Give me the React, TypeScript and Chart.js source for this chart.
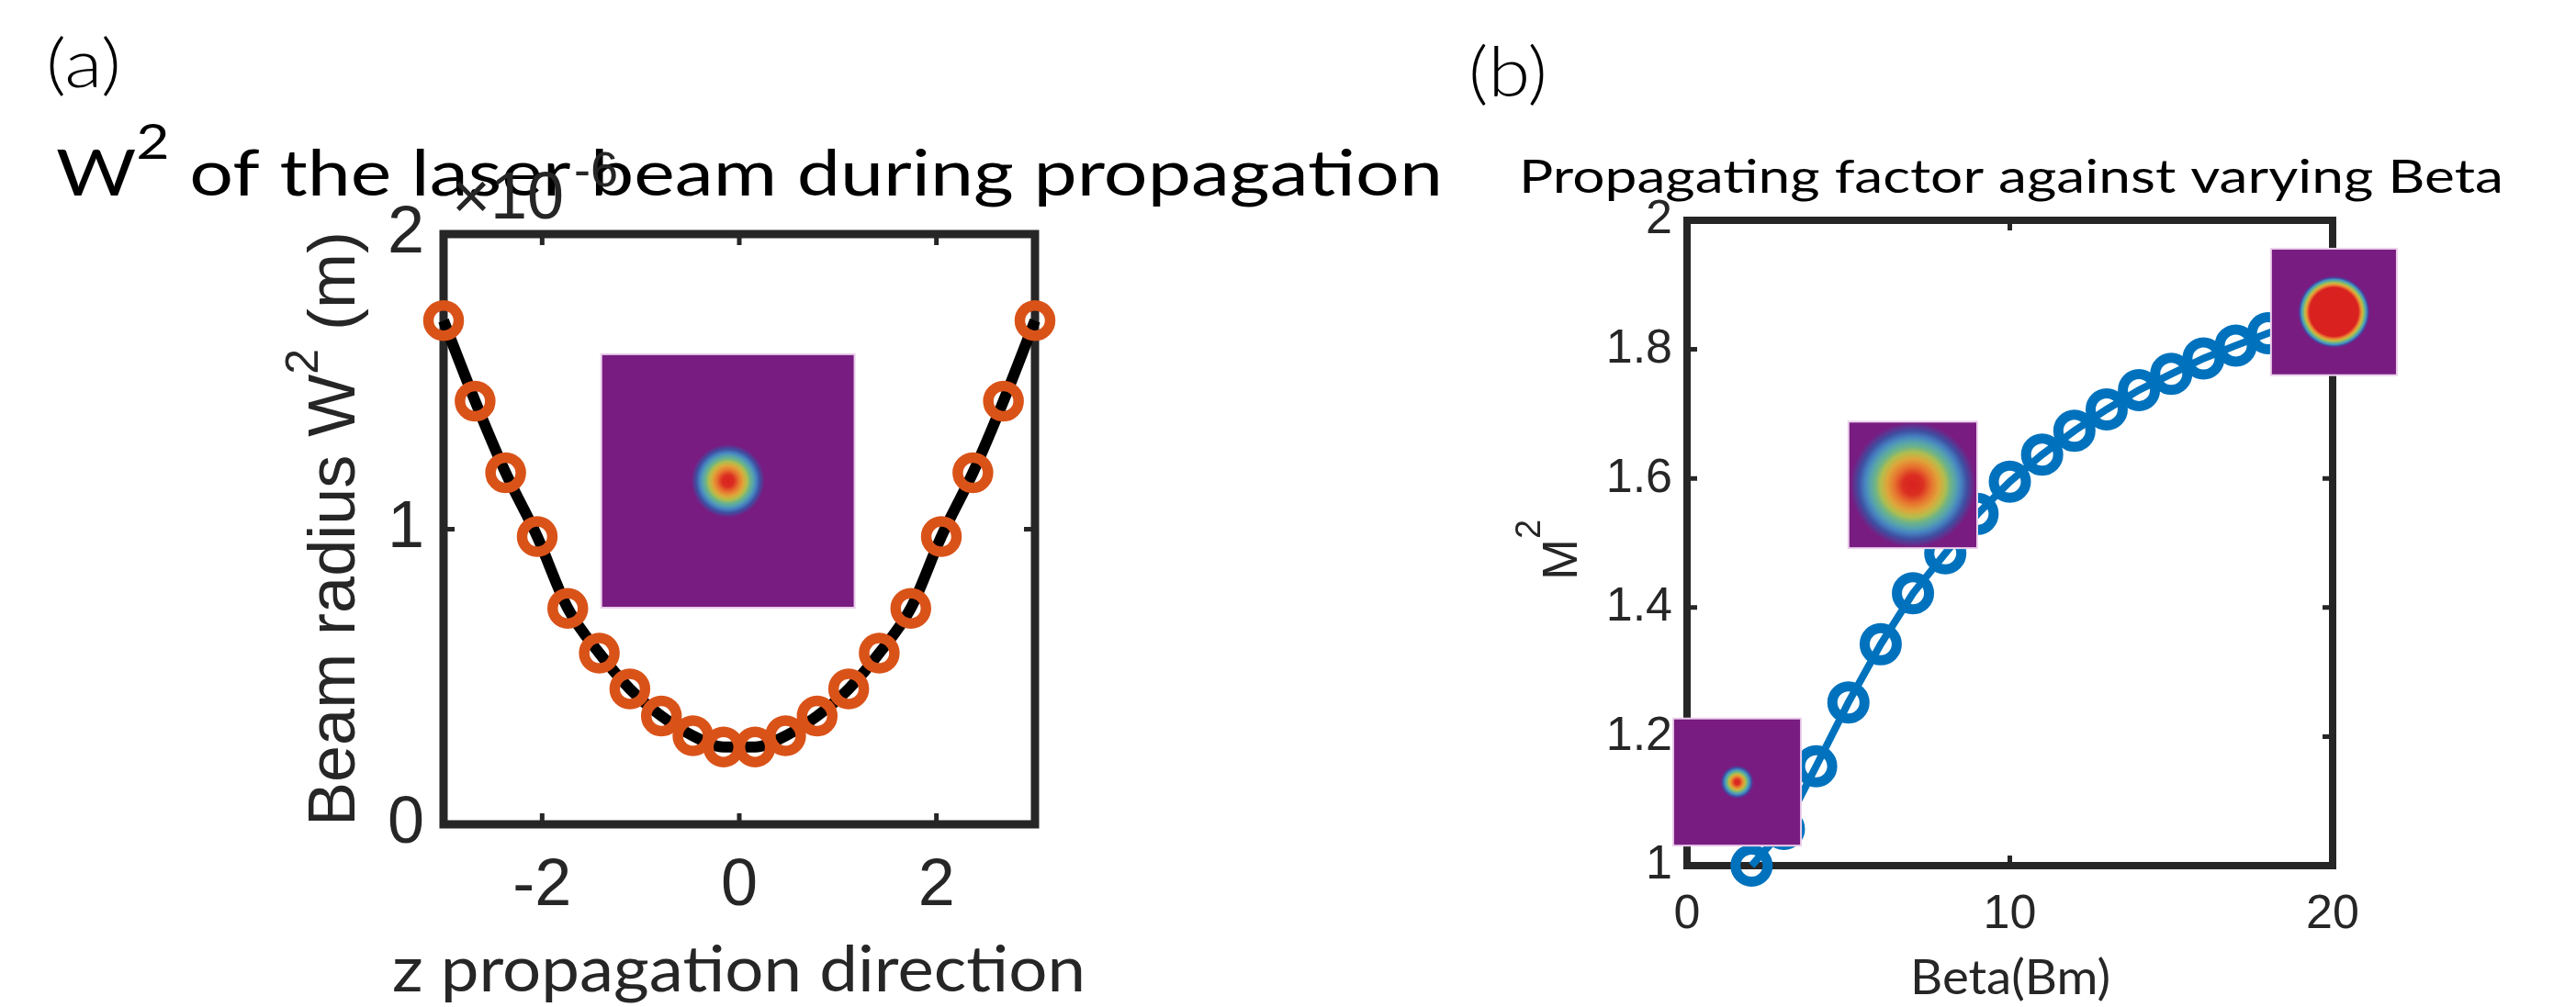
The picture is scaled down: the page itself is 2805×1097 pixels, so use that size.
import React, { useEffect, useRef } from "react";
import { Chart, registerables } from "chart.js";

Chart.register(...registerables);

// ---------------- Panel (a) data ----------------
const zPositions = [-3, -2.68, -2.37, -2.05, -1.74, -1.42, -1.11, -0.79, -0.47, -0.16, 0.16, 0.47, 0.79, 1.11, 1.42, 1.74, 2.05, 2.37, 2.68, 3];
const beamRadiusSq = [1.707e-6, 1.434e-6, 1.191e-6, 0.975e-6, 0.732e-6, 0.58e-6, 0.459e-6, 0.367e-6, 0.3e-6, 0.262e-6, 0.262e-6, 0.3e-6, 0.367e-6, 0.459e-6, 0.58e-6, 0.732e-6, 0.975e-6, 1.191e-6, 1.434e-6, 1.707e-6];
const zTicks = [-2, 0, 2];
const radiusTicks = [0, 1e-6, 2e-6];
const radiusTickLabels = ["0", "1", "2"];

// ---------------- Panel (b) data ----------------
const betaValues = [2, 3, 4, 5, 6, 7, 8, 9, 10, 11, 12, 13, 14, 15, 16, 17, 18, 19, 20];
const m2Values = [1.0, 1.057, 1.154, 1.253, 1.343, 1.422, 1.484, 1.545, 1.595, 1.637, 1.674, 1.707, 1.737, 1.762, 1.786, 1.806, 1.825, 1.842, 1.857];
const betaTicks = [0, 10, 20];
const m2Ticks = [1, 1.2, 1.4, 1.6, 1.8, 2];
const m2TickLabels = ["1", "1.2", "1.4", "1.6", "1.8", "2"];

// ---------------- styles / layout ----------------
const AXIS_COLOR = "#262626";
const TICK_FAMILY = '"Liberation Sans", Arial, Helvetica, sans-serif';
const TEXT_FAMILY = 'Lato, "Open Sans", sans-serif';
const PURPLE = "#781C81";

const gaussianStops: [number, string][] = [
  [0, "#D92120"], [0.16, "#DB2E21"], [0.3, "#E7742F"], [0.42, "#DFA53A"], [0.52, "#B1BE4E"],
  [0.61, "#6DB388"], [0.69, "#57A3AD"], [0.77, "#4683C1"], [0.87, "#3F4EA1"], [1, PURPLE],
];
const flatTopStops: [number, string][] = [
  [0, "#D92120"], [0.68, "#D92120"], [0.74, "#E7742F"], [0.78, "#DFA53A"], [0.82, "#B1BE4E"],
  [0.86, "#6DB388"], [0.89, "#57A3AD"], [0.92, "#4683C1"], [0.95, "#3F4EA1"], [1, PURPLE],
];

type Inset = { xFrom: number; xTo: number; yTop: number; yBottom: number; radius: number; stops: [number, string][] };

const insetsA: Inset[] = [
  { xFrom: -1.4, xTo: 1.17, yTop: 1.593e-6, yBottom: 0.734e-6, radius: 40, stops: gaussianStops },
];
const insetsB: Inset[] = [
  { xFrom: -0.43, xTo: 3.53, yTop: 1.228, yBottom: 1.031, radius: 18, stops: gaussianStops },
  { xFrom: 5.0, xTo: 8.99, yTop: 1.688, yBottom: 1.492, radius: 68, stops: gaussianStops },
  { xFrom: 18.09, xTo: 21.99, yTop: 1.956, yBottom: 1.76, radius: 39, stops: flatTopStops },
];

type Seg = { text: string; size: number; family?: string; weight?: string; raise?: number };
type TextSpec = { segs: Seg[]; x: number; y: number; color: string; fit?: number; rotate?: boolean };

const textsA: TextSpec[] = [
  { segs: [{ text: "(a)", size: 73, weight: "300" }], x: 50, y: 95, color: "#000", fit: 82 },
  {
    segs: [
      { text: "W", size: 70 },
      { text: "2", size: 52, raise: 40 },
      { text: " of the laser beam during propagation", size: 70 },
    ],
    x: 61, y: 213, color: "#000", fit: 1510,
  },
  { segs: [{ text: "×10", size: 72, family: TICK_FAMILY }], x: 492, y: 238, color: AXIS_COLOR },
  { segs: [{ text: "-6", size: 54, family: TICK_FAMILY }], x: 625, y: 203, color: AXIS_COLOR },
  { segs: [{ text: "z propagation direction", size: 70 }], x: 427, y: 1080, color: AXIS_COLOR, fit: 755 },
  {
    segs: [
      { text: "Beam radius W", size: 72, family: TICK_FAMILY },
      { text: "2", size: 50, raise: 40, family: TICK_FAMILY },
      { text: " (m)", size: 72, family: TICK_FAMILY },
    ],
    x: 386, y: 900, color: AXIS_COLOR, fit: 648, rotate: true,
  },
];

const textsB: TextSpec[] = [
  { segs: [{ text: "(b)", size: 74, weight: "300" }], x: 1599, y: 105, color: "#000", fit: 86 },
  { segs: [{ text: "Propagating factor against varying Beta", size: 51 }], x: 1654, y: 210, color: "#000", fit: 1072 },
  { segs: [{ text: "Beta(Bm)", size: 53 }], x: 2080, y: 1083, color: AXIS_COLOR, fit: 218 },
  {
    segs: [
      { text: "M", size: 54, family: TICK_FAMILY },
      { text: "2", size: 38, raise: 40, family: TICK_FAMILY },
    ],
    x: 1717, y: 632, color: AXIS_COLOR, rotate: true,
  },
];

function fontOf(s: Seg) {
  return `${s.weight || "400"} ${s.size}px ${s.family || TEXT_FAMILY}`;
}

function drawRun(ctx: CanvasRenderingContext2D, t: TextSpec) {
  ctx.save();
  ctx.translate(t.x, t.y);
  if (t.rotate) ctx.rotate(-Math.PI / 2);
  let natural = 0;
  for (const s of t.segs) {
    ctx.font = fontOf(s);
    natural += ctx.measureText(s.text).width;
  }
  if (t.fit) ctx.scale(t.fit / natural, 1);
  ctx.fillStyle = t.color;
  ctx.textAlign = "left";
  ctx.textBaseline = "alphabetic";
  let cx = 0;
  for (const s of t.segs) {
    ctx.font = fontOf(s);
    ctx.fillText(s.text, cx, -(s.raise || 0));
    cx += ctx.measureText(s.text).width;
  }
  ctx.restore();
}

function makeDecor(xTicks: number[], yTicks: number[], insets: Inset[], texts: TextSpec[], boxWidth: number, tickLen: number) {
  return {
    id: "decor",
    beforeDatasetsDraw(chart: any) {
      const ctx: CanvasRenderingContext2D = chart.ctx;
      const { left, right, top, bottom } = chart.chartArea;
      const xs = chart.scales.x;
      const ys = chart.scales.y;
      ctx.save();
      ctx.strokeStyle = AXIS_COLOR;
      ctx.lineWidth = boxWidth;
      ctx.strokeRect(left, top, right - left, bottom - top);
      ctx.lineWidth = 5;
      ctx.beginPath();
      for (const v of xTicks) {
        const px = xs.getPixelForValue(v);
        if (px > left + 3 && px < right - 3) {
          ctx.moveTo(px, bottom);
          ctx.lineTo(px, bottom - tickLen);
          ctx.moveTo(px, top);
          ctx.lineTo(px, top + tickLen);
        }
      }
      for (const v of yTicks) {
        const py = ys.getPixelForValue(v);
        if (py > top + 3 && py < bottom - 3) {
          ctx.moveTo(left, py);
          ctx.lineTo(left + tickLen, py);
          ctx.moveTo(right, py);
          ctx.lineTo(right - tickLen, py);
        }
      }
      ctx.stroke();
      ctx.restore();
    },
    afterDatasetsDraw(chart: any) {
      const ctx: CanvasRenderingContext2D = chart.ctx;
      const xs = chart.scales.x;
      const ys = chart.scales.y;
      for (const ins of insets) {
        const l = xs.getPixelForValue(ins.xFrom);
        const r = xs.getPixelForValue(ins.xTo);
        const t = ys.getPixelForValue(ins.yTop);
        const b = ys.getPixelForValue(ins.yBottom);
        ctx.save();
        ctx.fillStyle = PURPLE;
        ctx.fillRect(l, t, r - l, b - t);
        const cx = (l + r) / 2;
        const cy = (t + b) / 2;
        const g = ctx.createRadialGradient(cx, cy, 0, cx, cy, ins.radius);
        for (const [f, c] of ins.stops) g.addColorStop(f, c);
        ctx.beginPath();
        ctx.rect(l, t, r - l, b - t);
        ctx.clip();
        ctx.fillStyle = g;
        ctx.beginPath();
        ctx.arc(cx, cy, ins.radius, 0, Math.PI * 2);
        ctx.fill();
        ctx.restore();
        ctx.save();
        ctx.strokeStyle = "rgba(236, 208, 236, 1)";
        ctx.lineWidth = 2;
        ctx.strokeRect(l, t, r - l, b - t);
        ctx.restore();
      }
    },
    afterDraw(chart: any) {
      const ctx: CanvasRenderingContext2D = chart.ctx;
      for (const t of texts) drawRun(ctx, t);
    },
  };
}

const W = 2805;
const H = 1097;

export default function App() {
  const refA = useRef<HTMLCanvasElement | null>(null);
  const refB = useRef<HTMLCanvasElement | null>(null);

  useEffect(() => {
    if (!refA.current || !refB.current) return;
    const pointsA = zPositions.map((z, i) => ({ x: z, y: beamRadiusSq[i] }));
    const pointsB = betaValues.map((b, i) => ({ x: b, y: m2Values[i] }));

    const chartA = new Chart(refA.current, {
      type: "scatter",
      data: {
        datasets: [
          {
            label: "fit",
            data: pointsA,
            showLine: true,
            borderColor: "#000000",
            borderWidth: 12,
            pointRadius: 0,
            cubicInterpolationMode: "monotone",
            order: 2,
            clip: false,
          } as any,
          {
            label: "W2",
            data: pointsA,
            showLine: false,
            pointRadius: 16.5,
            pointBorderWidth: 11.5,
            borderColor: "#D95319",
            pointBorderColor: "#D95319",
            backgroundColor: "rgba(0,0,0,0)",
            pointBackgroundColor: "rgba(0,0,0,0)",
            order: 1,
            clip: false,
          } as any,
        ],
      },
      options: {
        animation: false,
        responsive: false,
        events: [],
        layout: { padding: { left: 383, right: W - 1127, top: 255, bottom: H - 898 - 100 } },
        plugins: { legend: { display: false }, tooltip: { enabled: false }, title: { display: false } },
        scales: {
          x: {
            type: "linear",
            min: -3,
            max: 3,
            grid: { display: false, drawTicks: false },
            border: { display: false },
            ticks: {
              color: AXIS_COLOR,
              font: { family: TICK_FAMILY, size: 72, lineHeight: 1 },
              padding: 32,
              maxRotation: 0,
              autoSkip: false,
              callback: (v: any) => String(v),
            },
            afterBuildTicks: (s: any) => {
              s.ticks = zTicks.map((v) => ({ value: v }));
            },
            afterFit: (s: any) => {
              s.height = 100;
            },
          },
          y: {
            type: "linear",
            min: 0,
            max: 2e-6,
            grid: { display: false, drawTicks: false },
            border: { display: false },
            ticks: {
              color: AXIS_COLOR,
              font: { family: TICK_FAMILY, size: 72, lineHeight: 1 },
              padding: 21,
              autoSkip: false,
              callback: (_v: any, i: number) => radiusTickLabels[i],
            },
            afterBuildTicks: (s: any) => {
              s.ticks = radiusTicks.map((v) => ({ value: v }));
            },
            afterFit: (s: any) => {
              s.width = 100;
            },
          },
        },
      } as any,
      plugins: [makeDecor(zTicks, radiusTicks, insetsA, textsA, 9, 12)],
    });

    const chartB = new Chart(refB.current, {
      type: "scatter",
      data: {
        datasets: [
          {
            label: "M2",
            data: pointsB,
            showLine: true,
            borderColor: "#0072BD",
            borderWidth: 8,
            tension: 0,
            pointRadius: 17.5,
            pointBorderWidth: 11,
            pointBorderColor: "#0072BD",
            backgroundColor: "rgba(0,0,0,0)",
            pointBackgroundColor: "rgba(0,0,0,0)",
            clip: false,
          } as any,
        ],
      },
      options: {
        animation: false,
        responsive: false,
        events: [],
        layout: { padding: { left: 1837 - 100, right: W - 2540, top: 240, bottom: H - 943 - 100 } },
        plugins: { legend: { display: false }, tooltip: { enabled: false }, title: { display: false } },
        scales: {
          x: {
            type: "linear",
            min: 0,
            max: 20,
            grid: { display: false, drawTicks: false },
            border: { display: false },
            ticks: {
              color: AXIS_COLOR,
              font: { family: TICK_FAMILY, size: 52, lineHeight: 1 },
              padding: 28,
              maxRotation: 0,
              autoSkip: false,
              callback: (v: any) => String(v),
            },
            afterBuildTicks: (s: any) => {
              s.ticks = betaTicks.map((v) => ({ value: v }));
            },
            afterFit: (s: any) => {
              s.height = 100;
            },
          },
          y: {
            type: "linear",
            min: 1,
            max: 2,
            grid: { display: false, drawTicks: false },
            border: { display: false },
            ticks: {
              color: AXIS_COLOR,
              font: { family: TICK_FAMILY, size: 52, lineHeight: 1 },
              padding: 16,
              autoSkip: false,
              callback: (_v: any, i: number) => m2TickLabels[i],
            },
            afterBuildTicks: (s: any) => {
              s.ticks = m2Ticks.map((v) => ({ value: v }));
            },
            afterFit: (s: any) => {
              s.width = 100;
            },
          },
        },
      } as any,
      plugins: [makeDecor(betaTicks, m2Ticks, insetsB, textsB, 8, 11)],
    });

    return () => {
      chartA.destroy();
      chartB.destroy();
    };
  }, []);

  const canvasStyle: React.CSSProperties = { position: "absolute", left: 0, top: 0, width: W, height: H, display: "block" };
  return (
    <div style={{ position: "absolute", left: 0, top: 0, width: W, height: H, background: "#ffffff", overflow: "hidden" }}>
      <canvas ref={refA} width={W} height={H} style={canvasStyle} />
      <canvas ref={refB} width={W} height={H} style={canvasStyle} />
    </div>
  );
}
